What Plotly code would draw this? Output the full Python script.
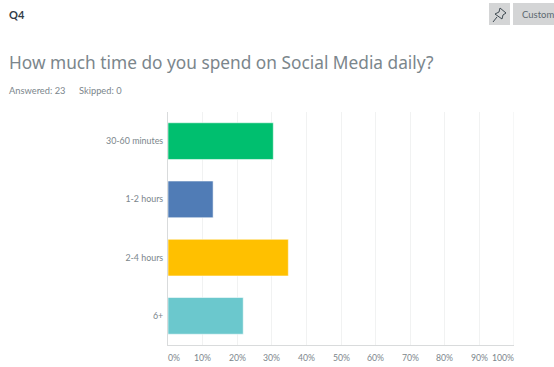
import plotly.graph_objects as go

WIDTH = 554
HEIGHT = 367

categories = ["30-60 minutes", "1-2 hours", "2-4 hours", "6+"]
shares = [30.43, 13.04, 34.78, 21.74]
bar_colors = ["#00BF6F", "#507CB6", "#FFC000", "#6BC8CD"]
tick_values = [0, 10, 20, 30, 40, 50, 60, 70, 80, 90, 100]
tick_labels = ["0%", "10%", "20%", "30%", "40%", "50%", "60%", "70%", "80%", "90%", "100%"]

FONT = "Lato, 'Open Sans', sans-serif"
HEADING_FONT = "'Noto Sans', 'Open Sans', sans-serif"


def px(x):
    return x / WIDTH


def py(y):
    return 1 - y / HEIGHT


fig = go.Figure(
    go.Bar(
        x=shares,
        y=categories,
        orientation="h",
        marker=dict(color=bar_colors, line=dict(color="rgba(255,255,255,0.55)", width=1)),
        width=0.63,
        hoverinfo="skip",
    )
)

# The end labels sit inside the plot edges, the others are centred on their gridlines.
annotations = []
for value, label in zip(tick_values, tick_labels):
    anchor = "left" if value == 0 else "right" if value == 100 else "center"
    annotations.append(
        dict(
            x=value, xref="x", y=py(357), yref="paper", text=label, showarrow=False,
            xanchor=anchor, yanchor="middle", xshift=0, borderpad=0, borderwidth=0,
            font=dict(family=FONT, size=8.7, color="#7B868C"),
        )
    )


def page_text(x, y, text, size, color, family=FONT):
    annotations.append(
        dict(
            x=px(x), xref="paper", y=py(y), yref="paper", text=text, showarrow=False,
            xanchor="left", yanchor="middle", borderpad=0, borderwidth=0,
            font=dict(family=family, size=size, color=color),
        )
    )


page_text(9, 14, "<b>Q4</b>", 11, "#333E48")
page_text(9, 62, "How much time do you spend on Social Media daily?", 17.3, "#7B868C", HEADING_FONT)
page_text(9, 90, "Answered: 23", 9.3, "#7B868C")
page_text(79, 90, "Skipped: 0", 9.3, "#7B868C")
page_text(521.5, 14, "Custom", 9.5, "#5C6870")

# Toolbar buttons and the pin glyph, placed in page pixels.
shapes = [
    dict(type="rect", xref="paper", yref="paper", x0=px(489), x1=px(510), y0=py(3), y1=py(25),
         fillcolor="#D4D5D6", line=dict(width=0), layer="below"),
    dict(type="rect", xref="paper", yref="paper", x0=px(513), x1=px(554), y0=py(3), y1=py(25),
         fillcolor="#D4D5D6", line=dict(width=0), layer="below"),
]
pin_outline = [(500, 8), (506, 13), (503, 15), (502, 19), (495, 14), (499, 12)]
pin_needle = [(497, 17), (493, 22)]


def page_path(points, closed=False):
    body = " L ".join(f"{px(a):.5f},{py(b):.5f}" for a, b in points)
    return "M " + body + (" Z" if closed else "")


shapes.append(
    dict(type="path", xref="paper", yref="paper",
         path=page_path(pin_outline, closed=True) + " " + page_path(pin_needle),
         line=dict(color="#3F4A52", width=1))
)
# Far edge of the plot area
shapes.append(
    dict(type="line", xref="x", yref="paper", x0=100, x1=100, y0=py(345), y1=py(112),
         line=dict(color="#EDEEEE", width=1), layer="below")
)

fig.update_layout(
    width=WIDTH,
    height=HEIGHT,
    margin=dict(l=0, r=0, t=0, b=0),
    paper_bgcolor="white",
    plot_bgcolor="white",
    showlegend=False,
    annotations=annotations,
    shapes=shapes,
    xaxis=dict(
        domain=[px(168), px(514)],
        range=[0, 100],
        tickvals=tick_values,
        showticklabels=False,
        ticks="",
        showgrid=True,
        gridcolor="#F1F2F2",
        gridwidth=1,
        zeroline=False,
        showline=True,
        linecolor="#D9DBDC",
        linewidth=1,
        fixedrange=True,
    ),
    yaxis=dict(
        domain=[py(345), py(112)],
        categoryorder="array",
        categoryarray=categories[::-1],
        ticks="",
        ticklabelstandoff=2,
        tickfont=dict(family=FONT, size=8.9, color="#7B868C"),
        showgrid=False,
        zeroline=False,
        showline=True,
        linecolor="#D9DBDC",
        linewidth=1,
        fixedrange=True,
    ),
)

fig.write_html("out.html", config=dict(displayModeBar=False))
